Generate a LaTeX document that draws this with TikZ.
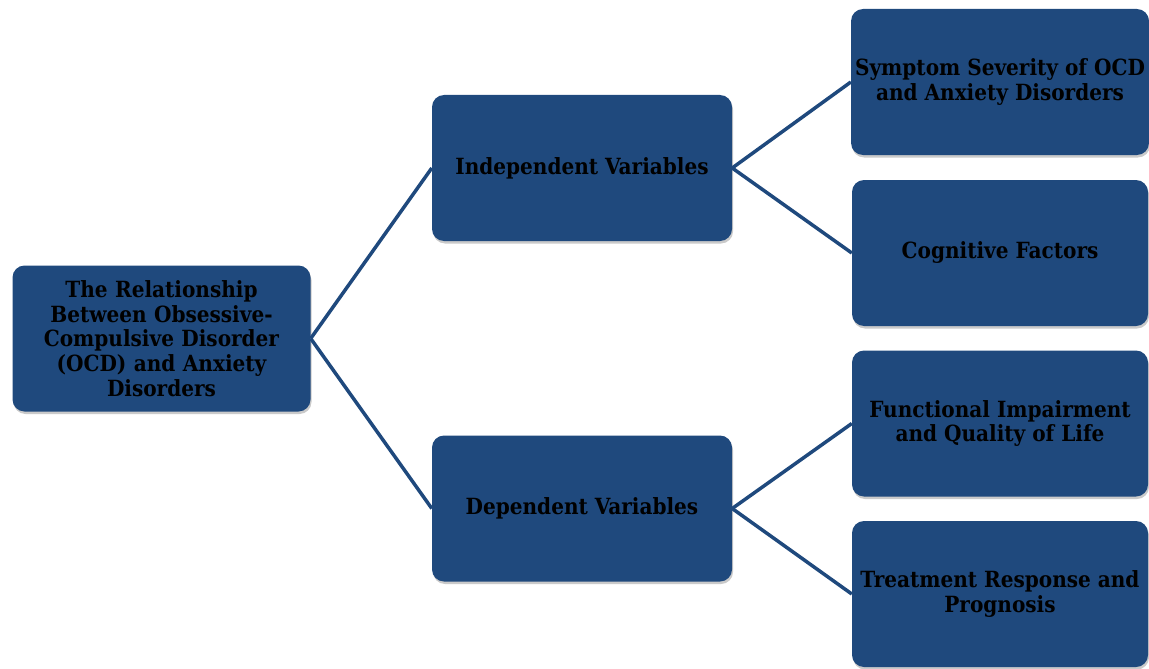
\documentclass[tikz,border=0pt]{standalone}
\usepackage{fontspec}
\setmainfont{DejaVu Serif Condensed}
\usetikzlibrary{shadows}
\definecolor{boxblue}{HTML}{1F497D}
\tikzset{
  vbox/.style={draw=none, fill=boxblue, rounded corners=12pt, minimum width=298pt, minimum height=146pt,
    align=center, text=black, font=\bfseries\fontsize{22.3}{24.75}\selectfont, inner sep=4pt,
    drop shadow={opacity=0.35, shadow xshift=1pt, shadow yshift=-2.5pt, fill=black!60}},
  link/.style={draw=boxblue, line width=3.5pt}
}
\begin{document}
\begin{tikzpicture}[x=1pt,y=-1pt]
\useasboundingbox (0,0) rectangle (1149,669);
\node[vbox, text width=285pt] (root) at (161.5,338.5) {The Relationship\\Between Obsessive-\\Compulsive Disorder\\(OCD) and Anxiety\\Disorders};
\node[vbox, minimum width=300pt] (ind) at (582,168) {Independent Variables};
\node[vbox, minimum width=300pt] (dep) at (582,508.5) {Dependent Variables};
\node[vbox, minimum width=296pt] (sym) at (1000,82) {Symptom Severity of OCD\\and Anxiety Disorders};
\node[vbox, minimum width=296pt] (cog) at (1000,253) {Cognitive Factors};
\node[vbox, minimum width=296pt] (fun) at (1000,423.5) {Functional Impairment\\and Quality of Life};
\node[vbox, minimum width=296pt] (tre) at (1000,594) {Treatment Response and\\Prognosis};
\draw[link] (root.east) -- (ind.west);
\draw[link] (root.east) -- (dep.west);
\draw[link] (ind.east) -- (sym.west);
\draw[link] (ind.east) -- (cog.west);
\draw[link] (dep.east) -- (fun.west);
\draw[link] (dep.east) -- (tre.west);
\end{tikzpicture}
\end{document}
